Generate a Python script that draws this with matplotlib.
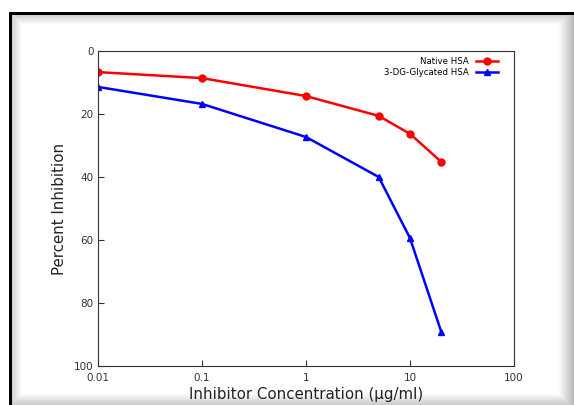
import matplotlib
matplotlib.use('Agg')
import matplotlib.pyplot as plt
import numpy as np

conc = [0.01, 0.1, 1, 5, 10, 20]
native_hsa = [6.7, 8.6, 14.3, 20.6, 26.3, 35.2]
glycated_hsa = [11.4, 16.8, 27.3, 40.0, 59.4, 89.2]

fig = plt.figure(figsize=(5.74, 4.05), dpi=100)

# frame with soft shadow (as in the screenshot)
W, H = 574, 405
img = np.ones((H, W, 3))
yy, xx = np.mgrid[0:H, 0:W]
shade = np.ones((H, W))
# inner shadow from top and left line
dl = xx - 11
dt = yy - 14
shade = np.minimum(shade, np.clip(0.8 + dl / 50.0, 0, 1))
shade = np.minimum(shade, np.clip(0.8 + dt / 50.0, 0, 1))
# right and bottom greys
shade = np.minimum(shade, np.where(xx > 558, 1 - (xx - 558) / 55.0, 1))
shade = np.minimum(shade, np.where(yy > 393, 1 - (yy - 393) / 55.0, 1))
img = img * shade[..., None]
img[(yy < 12)] = 1.0
img[:, :9] = 1.0
img[(yy >= 12) & (yy <= 14) & (xx >= 9)] = 0.0
img[(xx >= 9) & (xx <= 11) & (yy >= 12)] = 0.0
bg = fig.add_axes([0, 0, 1, 1])
bg.imshow(img, extent=[0, W, H, 0], aspect='auto', interpolation='bilinear')
bg.axis('off')

ax = fig.add_axes([98 / W, 1 - 366 / H, (514 - 98) / W, (366 - 51) / H])
ax.plot(conc, native_hsa, color='red', marker='o', lw=1.8, ms=5, label='Native HSA')
ax.plot(conc, glycated_hsa, color='blue', marker='^', lw=1.8, ms=5, label='3-DG-Glycated HSA')
ax.set_xscale('log')
ax.set_xlim(0.01, 100)
ax.set_ylim(100, 0)
ax.set_xticks([0.01, 0.1, 1, 10, 100])
ax.set_xticklabels(['0.01', '0.1', '1', '10', '100'])
ax.minorticks_off()
ax.set_yticks([0, 20, 40, 60, 80, 100])
ax.tick_params(direction='in', labelsize=7.5, colors='#333333', length=4)
ax.tick_params(axis='x', pad=5)
ax.tick_params(axis='y', pad=3)
for s in ax.spines.values():
    s.set_color('#333333')
ax.set_xlabel('Inhibitor Concentration (µg/ml)', fontsize=10.8, color='#222222', labelpad=3)
ax.set_ylabel('Percent Inhibition', fontsize=10.8, color='#222222', labelpad=5)
ax.legend(loc='upper right', frameon=False, markerfirst=False, fontsize=6.2,
          handlelength=2.5, borderaxespad=0.3, labelspacing=0.2,
          bbox_to_anchor=(0.975, 1.0))

fig.savefig('out.png', dpi=100)
